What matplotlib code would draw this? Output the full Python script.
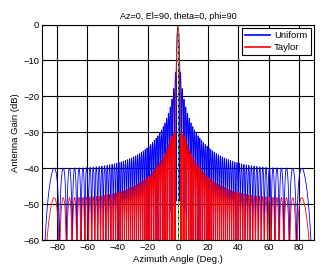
import numpy as np
import matplotlib
matplotlib.use("Agg")
import matplotlib.pyplot as plt

# array set-up read from the pattern: 100 elements, half-wavelength spacing,
# Taylor taper with -30 dB sidelobes
N_ELEMENTS = 100
SPACING = 0.5           # wavelengths
TAYLOR_SLL = -30.0      # dB
TAYLOR_NBAR = 5
ANGLES = np.linspace(-90, 90, 7201)   # azimuth, degrees

X_TICKS = [-80, -60, -40, -20, 0, 20, 40, 60, 80]
Y_TICKS = [0, -10, -20, -30, -40, -50, -60]
SERIES = ["Uniform", "Taylor"]
COLORS = ["#0000ff", "#ff0000"]

plt.rcParams['font.family'] = ['Liberation Sans', 'DejaVu Sans']


def taylor_weights(n, sll, nbar):
    r = 10 ** (-sll / 20.0)
    a = np.arccosh(r) / np.pi
    s2 = nbar ** 2 / (a ** 2 + (nbar - 0.5) ** 2)
    fm = np.zeros(nbar - 1)
    for m in range(1, nbar):
        num = 1.0
        den = 1.0
        for k in range(1, nbar):
            num *= 1 - m ** 2 / (s2 * (a ** 2 + (k - 0.5) ** 2))
            if k != m:
                den *= 1 - m ** 2 / k ** 2
        fm[m - 1] = (-1) ** (m + 1) * num / (2 * den)
    xp = (np.arange(n) - (n - 1) / 2) / n
    w = np.ones(n)
    for m in range(1, nbar):
        w += 2 * fm[m - 1] * np.cos(2 * np.pi * m * xp)
    return w


def pattern_db(w):
    u = np.sin(np.radians(ANGLES))
    pos = np.arange(len(w)) - (len(w) - 1) / 2
    af = np.abs(np.exp(1j * 2 * np.pi * SPACING * np.outer(u, pos)) @ w)
    af = af / af.max()
    return 20 * np.log10(np.maximum(af, 1e-6))


weights = [np.ones(N_ELEMENTS), taylor_weights(N_ELEMENTS, TAYLOR_SLL, TAYLOR_NBAR)]

fig = plt.figure(figsize=(3.27, 2.71), dpi=100)
ax = fig.add_axes([42 / 327, 1 - 240 / 271, 272 / 327, 215.5 / 271])

for name, w, c in zip(SERIES, weights, COLORS):
    ax.plot(ANGLES, pattern_db(w), color=c, lw=0.6, label=name)
ax.axvline(0, color="#22dd22", ls="--", lw=0.8)

ax.set_xlim(-90, 90)
ax.set_ylim(-60, 0)
ax.set_xticks(X_TICKS)
ax.set_yticks(Y_TICKS)
ax.grid(True, color="black", lw=0.8)
ax.tick_params(labelsize=6.8, length=2, direction="in", pad=2)
for sp in ax.spines.values():
    sp.set_linewidth(0.8)

ax.set_title("Az=0, El=90, theta=0, phi=90", fontsize=6.5, pad=4)
ax.set_xlabel("Azimuth Angle (Deg.)", fontsize=6.8, labelpad=2)
ax.set_ylabel("Antenna Gain (dB)", fontsize=6.8, labelpad=2)

leg = ax.legend(loc="upper right", fontsize=6.8, fancybox=False, framealpha=1,
                edgecolor="black", borderaxespad=0.35, handlelength=2.7,
                handletextpad=0.4, borderpad=0.35, labelspacing=0.3)
leg.get_frame().set_linewidth(0.8)
for line in leg.get_lines():
    line.set_linewidth(1.2)

fig.savefig("out.png", dpi=100)
